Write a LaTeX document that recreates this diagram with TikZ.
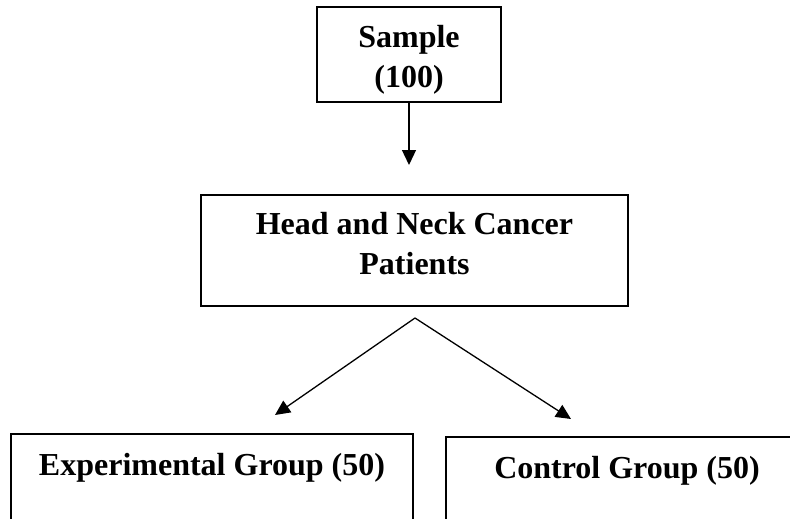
\documentclass[tikz,border=0pt]{standalone}
\usepackage{fontspec}
\setmainfont{Liberation Serif}
\usetikzlibrary{arrows.meta}

\tikzset{
  box/.style={draw=black, line width=1.6pt, rectangle, inner sep=0pt},
  lbl/.style={font=\bfseries\fontsize{32}{40}\selectfont, align=center, inner sep=0pt},
  arr/.style={draw=black, line width=1.3pt, -{Triangle[length=15pt,width=14pt]}}
}

\begin{document}
\begin{tikzpicture}[x=1pt, y=-1pt]
  % page frame
  \fill[white] (0,0) rectangle (790,519);
  \useasboundingbox (0,0) rectangle (790,519);
  \clip (0,0) rectangle (790,519);

  % boxes
  \node[box, minimum width=184pt, minimum height=95pt] (sample) at (409,54.5) {};
  \node[box, minimum width=427pt, minimum height=111pt] (patients) at (414.5,250.5) {};
  \node[box, minimum width=402pt, minimum height=110pt] (expgroup) at (212,489) {};
  \node[box, minimum width=362pt, minimum height=110pt] (ctrlgroup) at (627,492) {};

  % box texts
  \node[lbl] (sampletext) at (409,60) {Sample\\(100)};
  \node[lbl] (patientstext) at (414.5,244) {Head and Neck Cancer\\Patients};
  \node[lbl, anchor=base] (exptext) at (212,475) {Experimental Group (50)};
  \node[lbl, anchor=base] (ctrltext) at (627,478) {Control Group (50)};

  % connectors
  \coordinate (sampletip) at (409,165);
  \coordinate (split) at (415,318);
  \coordinate (exptip) at (275,415);
  \coordinate (ctrltip) at (571,419);

  \draw[arr] (sample.south) -- (sampletip);
  \draw[arr] (split) -- (exptip);
  \draw[arr] (split) -- (ctrltip);
\end{tikzpicture}
\end{document}
